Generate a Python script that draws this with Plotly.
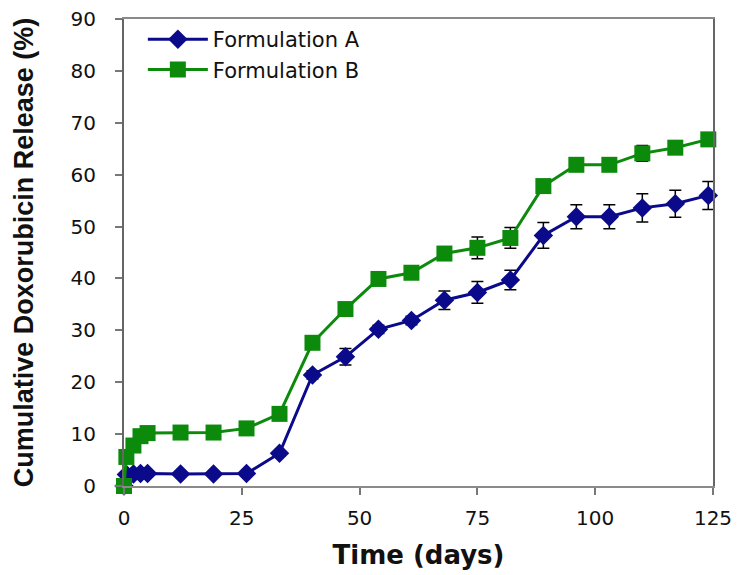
import plotly.graph_objects as go

days = [0, 0.5, 2, 3.5, 5, 12, 19, 26, 33, 40, 47, 54, 61, 68, 75, 82, 89, 96, 103, 110, 117, 124]
release_A = [0, 2.2, 2.3, 2.4, 2.4, 2.3, 2.3, 2.4, 6.3, 21.4, 24.9, 30.2, 31.9, 35.8, 37.3, 39.7, 48.3, 51.9, 51.9, 53.6, 54.4, 56.0]
err_A = [0, 0.3, 0.3, 0.3, 0.3, 0.3, 0.3, 0.3, 0.5, 0.8, 1.6, 0.8, 0.8, 1.8, 2.1, 1.9, 2.5, 2.3, 2.3, 2.7, 2.6, 2.7]
release_B = [0, 5.6, 7.8, 9.6, 10.2, 10.3, 10.3, 11.1, 13.9, 27.6, 34.1, 39.9, 41.1, 44.8, 45.9, 47.8, 57.8, 61.9, 61.9, 64.1, 65.2, 66.8]
err_B = [0, 0.3, 0.3, 0.3, 0.3, 0.5, 0.5, 0.5, 0.6, 1.0, 0.8, 1.0, 1.0, 1.3, 2.1, 2.0, 1.0, 1.0, 1.0, 1.5, 1.0, 1.3]

series_names = ["Formulation A", "Formulation B"]
x_ticks = [0, 25, 50, 75, 100, 125]
y_ticks = [0, 10, 20, 30, 40, 50, 60, 70, 80, 90]

blue = "#0a0a8a"
green = "#0c8a0c"

fig = go.Figure()
fig.add_trace(go.Scatter(
    x=days, y=release_A, name=series_names[0], mode="lines+markers",
    line=dict(color=blue, width=3),
    marker=dict(symbol="diamond", size=15, color=blue),
    error_y=dict(type="data", array=err_A, visible=True, color="black", thickness=1.5, width=6),
    cliponaxis=False,
))
fig.add_trace(go.Scatter(
    x=days, y=release_B, name=series_names[1], mode="lines+markers",
    line=dict(color=green, width=3),
    marker=dict(symbol="square", size=16, color=green),
    error_y=dict(type="data", array=err_B, visible=True, color="black", thickness=1.5, width=6),
    cliponaxis=False,
))

# page body has an 8px default margin, so the figure is sized/offset to compensate
fig.update_layout(
    width=731, height=567,
    margin=dict(l=116, r=26, t=11, b=89, autoexpand=False),
    paper_bgcolor="white", plot_bgcolor="white",
    showlegend=True,
    legend=dict(
        x=0.032, y=1.0, xanchor="left", yanchor="top",
        font=dict(family="DejaVu Sans", size=21, color="#111111"),
        bgcolor="rgba(0,0,0,0)", itemwidth=60, tracegroupgap=0,
    ),
    xaxis=dict(
        range=[0, 125], tickvals=x_ticks, ticktext=[str(v) for v in x_ticks],
        showgrid=False, zeroline=False, automargin=False,
        showline=True, linecolor="#8a8a8a", linewidth=1.5, mirror=True,
        ticks="outside", ticklen=7, tickcolor="#777777", tickwidth=1.5,
        tickfont=dict(family="DejaVu Sans", size=20, color="#111111"),
        ticklabelstandoff=6, ticklabeloverflow="allow",
        title=dict(text="<b>Time (days)</b>", font=dict(family="DejaVu Sans", size=26, color="#111111"), standoff=17),
    ),
    yaxis=dict(
        range=[0, 90], tickvals=y_ticks, ticktext=[str(v) for v in y_ticks],
        showgrid=False, zeroline=False, automargin=False,
        showline=True, linecolor="#666666", linewidth=2, mirror=True,
        ticks="outside", ticklen=7, tickcolor="#777777", tickwidth=1.5,
        tickfont=dict(family="DejaVu Sans", size=20, color="#111111"),
        ticklabelstandoff=15, ticklabeloverflow="allow",
        title=dict(text="<b>Cumulative Doxorubicin Release (%)</b>", font=dict(family="Liberation Sans", size=27, color="#111111"), standoff=29),
    ),
)

fig.write_html("out.html")
